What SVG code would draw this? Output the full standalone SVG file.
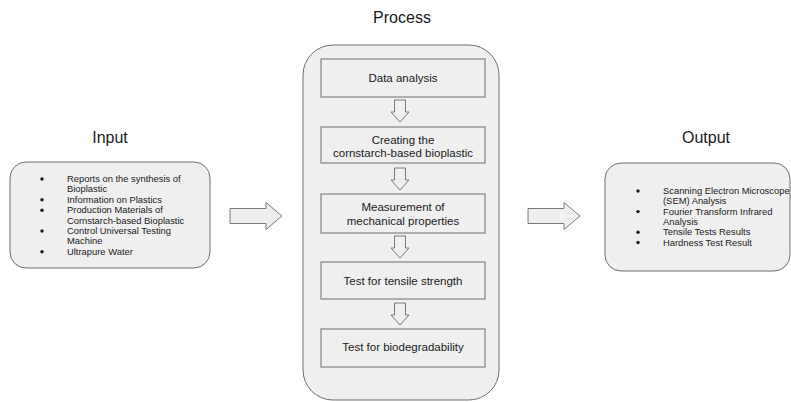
<svg xmlns="http://www.w3.org/2000/svg" width="791" height="402" viewBox="0 0 791 402">
  <style>
    .panel { fill: #efefef; stroke: #6f6f6f; stroke-width: 1; }
    .step { fill: #efefef; stroke: #6f6f6f; stroke-width: 1; }
    .arrow { fill: #efefef; stroke: #7a7a7a; stroke-width: 1; stroke-linejoin: miter; }
    .title { font-family: "Liberation Sans", Arial, sans-serif; font-size: 16px; fill: #1a1a1a; text-anchor: middle; }
    .label { font-family: "Liberation Sans", Arial, sans-serif; font-size: 11.5px; fill: #1a1a1a; text-anchor: middle; }
    .item { font-family: "Liberation Sans", Arial, sans-serif; font-size: 9.4px; fill: #1a1a1a; }
    .dot { fill: #1a1a1a; }
  </style>
  <defs>
    <path id="down" d="M -5.5 0 H 5.5 V 12 H 9 L 0 22 L -9 12 H -5.5 Z"/>
    <path id="right" d="M 0 -7.5 H 36 V -13.5 L 52 0 L 36 13.5 V 7.5 H 0 Z"/>
  </defs>

  <!-- Column headings -->
  <text class="title" x="110" y="143">Input</text>
  <text class="title" x="402" y="23">Process</text>
  <text class="title" x="706" y="143">Output</text>

  <!-- Input panel -->
  <g id="input">
    <rect class="panel" x="10" y="162" width="200" height="106" rx="16"/>
    <circle class="dot" cx="42" cy="179" r="1.7"/>
    <text class="item" x="67" y="182">Reports on the synthesis of</text>
    <text class="item" x="67" y="192.4">Bioplastic</text>
    <circle class="dot" cx="42" cy="199.8" r="1.7"/>
    <text class="item" x="67" y="202.8">Information on Plastics</text>
    <circle class="dot" cx="42" cy="210.2" r="1.7"/>
    <text class="item" x="67" y="213.2">Production Materials of</text>
    <text class="item" x="67" y="223.6">Cornstarch-based Bioplastic</text>
    <circle class="dot" cx="42" cy="231" r="1.7"/>
    <text class="item" x="67" y="234">Control Universal Testing</text>
    <text class="item" x="67" y="244.4">Machine</text>
    <circle class="dot" cx="42" cy="251.8" r="1.7"/>
    <text class="item" x="67" y="254.8">Ultrapure Water</text>
  </g>

  <!-- Process panel -->
  <g id="process">
    <rect class="panel" x="303" y="45" width="196" height="355" rx="30"/>
  </g>

  <g id="step-data-analysis">
    <rect class="step" x="321" y="59" width="164" height="38"/>
    <text class="label" x="403" y="82">Data analysis</text>
  </g>
  <g id="step-creating">
    <rect class="step" x="321" y="127" width="164" height="36"/>
    <text class="label" x="403" y="144">Creating the</text>
    <text class="label" x="403" y="157">cornstarch-based bioplastic</text>
  </g>
  <g id="step-measurement">
    <rect class="step" x="321" y="194" width="164" height="39"/>
    <text class="label" x="403" y="211">Measurement of</text>
    <text class="label" x="403" y="225">mechanical properties</text>
  </g>
  <g id="step-tensile">
    <rect class="step" x="321" y="262" width="164" height="37"/>
    <text class="label" x="403" y="285">Test for tensile strength</text>
  </g>
  <g id="step-biodegradability">
    <rect class="step" x="321" y="329" width="164" height="38"/>
    <text class="label" x="403" y="351">Test for biodegradability</text>
  </g>

  <!-- Output panel -->
  <g id="output">
    <rect class="panel" x="605" y="163" width="185" height="108" rx="16"/>
    <circle class="dot" cx="638" cy="191" r="1.7"/>
    <text class="item" x="663" y="194">Scanning Electron Microscope</text>
    <text class="item" x="663" y="204.3">(SEM) Analysis</text>
    <circle class="dot" cx="638" cy="211.6" r="1.7"/>
    <text class="item" x="663" y="214.6">Fourier Transform Infrared</text>
    <text class="item" x="663" y="224.9">Analysis</text>
    <circle class="dot" cx="638" cy="232.2" r="1.7"/>
    <text class="item" x="663" y="235.2">Tensile Tests Results</text>
    <circle class="dot" cx="638" cy="242.5" r="1.7"/>
    <text class="item" x="663" y="245.5">Hardness Test Result</text>
  </g>

  <!-- Block arrows -->
  <g id="connectors">
    <use href="#right" class="arrow" x="230" y="216"/>
    <use href="#right" class="arrow" x="528" y="216"/>
    <use href="#down" class="arrow" x="400" y="100"/>
    <use href="#down" class="arrow" x="400" y="168"/>
    <use href="#down" class="arrow" x="400" y="236"/>
    <use href="#down" class="arrow" x="400" y="303"/>
  </g>
</svg>
